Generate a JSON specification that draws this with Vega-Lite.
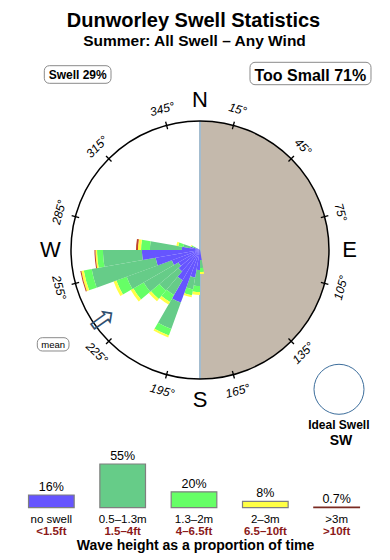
{
  "$schema": "https://vega.github.io/schema/vega-lite/v6.json",
  "padding": 0,
  "spacing": 0,
  "bounds": "flush",
  "background": "white",
  "config": {"view": {"stroke": null}, "axis": {"disable": true}, "font": "Liberation Sans", "text": {"font": "Liberation Sans"}},
  "vconcat": [
    {
      "width": 390,
      "height": 440,
      "data": {"values": [{}]},
      "encoding": {
        "x": {"datum": 0, "type": "quantitative", "scale": {"domain": [-1.5504, 1.4729], "nice": false, "zero": false}, "axis": null},
        "y": {"datum": 0, "type": "quantitative", "scale": {"domain": [-1.4729, 1.938], "nice": false, "zero": false}, "axis": null}
      },
      "layer": [
        {
          "mark": {"type": "arc", "fill": "white"},
          "encoding": {
            "theta": {"datum": 0, "type": "quantitative", "stack": null, "scale": {"type": "linear", "domain": [0, 360], "range": [0, 6.283185307179586], "nice": false, "zero": false}},
            "theta2": {"datum": 360},
            "radius": {"datum": 1, "type": "quantitative", "stack": null, "scale": {"type": "linear", "domain": [0, 1], "range": [0, 129], "nice": false, "zero": false}}
          }
        },
        {
          "mark": {"type": "arc", "fill": "#c4b9ac"},
          "encoding": {
            "theta": {"datum": 0, "type": "quantitative", "stack": null},
            "theta2": {"datum": 180},
            "radius": {"datum": 1, "type": "quantitative", "stack": null}
          }
        },
        {
          "mark": {"type": "rule", "color": "#a3bccf", "strokeWidth": 2},
          "encoding": {
            "y": {"datum": -1, "type": "quantitative"},
            "y2": {"datum": 1}
          }
        },
        {
          "data": {"values": [
            {"dir": 175, "band": "no swell", "lo": 0, "hi": 0.078},
            {"dir": 175, "band": "0.5–1.3m", "lo": 0.078, "hi": 0.140},
            {"dir": 175, "band": "1.3–2m", "lo": 0.140, "hi": 0.171},
            {"dir": 175, "band": "2–3m", "lo": 0.171, "hi": 0.186},
            {"dir": 185, "band": "no swell", "lo": 0, "hi": 0.155},
            {"dir": 185, "band": "0.5–1.3m", "lo": 0.155, "hi": 0.279},
            {"dir": 185, "band": "1.3–2m", "lo": 0.279, "hi": 0.326},
            {"dir": 185, "band": "2–3m", "lo": 0.326, "hi": 0.349},
            {"dir": 195, "band": "no swell", "lo": 0, "hi": 0.217},
            {"dir": 195, "band": "0.5–1.3m", "lo": 0.217, "hi": 0.310},
            {"dir": 195, "band": "1.3–2m", "lo": 0.310, "hi": 0.357},
            {"dir": 195, "band": "2–3m", "lo": 0.357, "hi": 0.372},
            {"dir": 205, "band": "no swell", "lo": 0, "hi": 0.434},
            {"dir": 205, "band": "0.5–1.3m", "lo": 0.434, "hi": 0.651},
            {"dir": 205, "band": "1.3–2m", "lo": 0.651, "hi": 0.705},
            {"dir": 205, "band": "2–3m", "lo": 0.705, "hi": 0.721},
            {"dir": 215, "band": "no swell", "lo": 0, "hi": 0.271},
            {"dir": 215, "band": "0.5–1.3m", "lo": 0.271, "hi": 0.403},
            {"dir": 215, "band": "1.3–2m", "lo": 0.403, "hi": 0.465},
            {"dir": 215, "band": "2–3m", "lo": 0.465, "hi": 0.488},
            {"dir": 225, "band": "no swell", "lo": 0, "hi": 0.217},
            {"dir": 225, "band": "0.5–1.3m", "lo": 0.217, "hi": 0.411},
            {"dir": 225, "band": "1.3–2m", "lo": 0.411, "hi": 0.496},
            {"dir": 225, "band": "2–3m", "lo": 0.496, "hi": 0.519},
            {"dir": 235, "band": "no swell", "lo": 0, "hi": 0.194},
            {"dir": 235, "band": "0.5–1.3m", "lo": 0.194, "hi": 0.504},
            {"dir": 235, "band": "1.3–2m", "lo": 0.504, "hi": 0.597},
            {"dir": 235, "band": "2–3m", "lo": 0.597, "hi": 0.620},
            {"dir": 245, "band": "no swell", "lo": 0, "hi": 0.233},
            {"dir": 245, "band": "0.5–1.3m", "lo": 0.233, "hi": 0.605},
            {"dir": 245, "band": "1.3–2m", "lo": 0.605, "hi": 0.690},
            {"dir": 245, "band": "2–3m", "lo": 0.690, "hi": 0.713},
            {"dir": 255, "band": "no swell", "lo": 0, "hi": 0.349},
            {"dir": 255, "band": "0.5–1.3m", "lo": 0.349, "hi": 0.853},
            {"dir": 255, "band": "1.3–2m", "lo": 0.853, "hi": 0.915},
            {"dir": 255, "band": "2–3m", "lo": 0.915, "hi": 0.934},
            {"dir": 255, "band": ">3m", "lo": 0.934, "hi": 0.942},
            {"dir": 265, "band": "no swell", "lo": 0, "hi": 0.450},
            {"dir": 265, "band": "0.5–1.3m", "lo": 0.450, "hi": 0.752},
            {"dir": 265, "band": "1.3–2m", "lo": 0.752, "hi": 0.798},
            {"dir": 265, "band": "2–3m", "lo": 0.798, "hi": 0.810},
            {"dir": 265, "band": ">3m", "lo": 0.810, "hi": 0.818},
            {"dir": 275, "band": "no swell", "lo": 0, "hi": 0.140},
            {"dir": 275, "band": "0.5–1.3m", "lo": 0.140, "hi": 0.388},
            {"dir": 275, "band": "1.3–2m", "lo": 0.388, "hi": 0.457},
            {"dir": 275, "band": "2–3m", "lo": 0.457, "hi": 0.481},
            {"dir": 275, "band": ">3m", "lo": 0.481, "hi": 0.496},
            {"dir": 285, "band": "no swell", "lo": 0, "hi": 0.078},
            {"dir": 285, "band": "0.5–1.3m", "lo": 0.078, "hi": 0.132},
            {"dir": 285, "band": "1.3–2m", "lo": 0.132, "hi": 0.171},
            {"dir": 285, "band": "2–3m", "lo": 0.171, "hi": 0.186},
            {"dir": 295, "band": "no swell", "lo": 0, "hi": 0.031},
            {"dir": 295, "band": "0.5–1.3m", "lo": 0.031, "hi": 0.054},
            {"dir": 295, "band": "1.3–2m", "lo": 0.054, "hi": 0.070},
            {"dir": 295, "band": "2–3m", "lo": 0.070, "hi": 0.078}
          ]},
          "transform": [
            {"calculate": "datum.dir - 5", "as": "t0"},
            {"calculate": "datum.dir + 5", "as": "t1"}
          ],
          "mark": {"type": "arc"},
          "encoding": {
            "theta": {"field": "t0", "type": "quantitative", "stack": null},
            "theta2": {"field": "t1"},
            "radius": {"field": "hi", "type": "quantitative", "stack": null},
            "radius2": {"field": "lo"},
            "color": {"field": "band", "type": "nominal", "legend": null,
              "scale": {"domain": ["no swell", "0.5–1.3m", "1.3–2m", "2–3m", ">3m"], "range": ["#6655ff", "#66cc88", "#66ff66", "#ffff44", "#c0432c"]}}
          }
        },
        {
          "mark": {"type": "arc", "fill": "white", "fillOpacity": 0, "stroke": "black", "strokeWidth": 1.5},
          "encoding": {
            "theta": {"datum": 0, "type": "quantitative", "stack": null},
            "theta2": {"datum": 360},
            "radius": {"datum": 1, "type": "quantitative", "stack": null}
          }
        },
        {
          "data": {"values": [{"b": 15}, {"b": 45}, {"b": 75}, {"b": 105}, {"b": 135}, {"b": 165}, {"b": 195}, {"b": 225}, {"b": 255}, {"b": 285}, {"b": 315}, {"b": 345}]},
          "transform": [
            {"calculate": "datum.b - 0.3", "as": "a0"},
            {"calculate": "datum.b + 0.3", "as": "a1"}
          ],
          "mark": {"type": "arc", "fill": "black"},
          "encoding": {
            "theta": {"field": "a0", "type": "quantitative", "stack": null},
            "theta2": {"field": "a1"},
            "radius": {"datum": 1.03, "type": "quantitative", "stack": null},
            "radius2": {"datum": 0.97}
          }
        },
        {
          "data": {"values": [{"b": 15}, {"b": 45}, {"b": 75}, {"b": 105}, {"b": 135}, {"b": 165}, {"b": 195}, {"b": 225}, {"b": 255}, {"b": 285}, {"b": 315}, {"b": 345}]},
          "transform": [
            {"calculate": "((datum.b + 90) % 180) - 90", "as": "rot"},
            {"calculate": "datum.b + '°'", "as": "lab"}
          ],
          "mark": {"type": "text", "fontSize": 12, "fontStyle": "italic", "baseline": "middle", "align": "center", "color": "black"},
          "encoding": {
            "theta": {"field": "b", "type": "quantitative", "stack": null},
            "radius": {"datum": 1.13, "type": "quantitative", "stack": null},
            "angle": {"field": "rot", "type": "quantitative", "scale": null},
            "text": {"field": "lab"}
          }
        },
        {
          "data": {"values": [{"b": 0, "l": "N"}, {"b": 90, "l": "E"}, {"b": 180, "l": "S"}, {"b": 270, "l": "W"}]},
          "mark": {"type": "text", "fontSize": 22, "baseline": "middle", "align": "center", "color": "black"},
          "encoding": {
            "theta": {"field": "b", "type": "quantitative", "stack": null},
            "radius": {"datum": 1.16, "type": "quantitative", "stack": null},
            "text": {"field": "l"}
          }
        },
        {
          "mark": {"type": "text", "text": "⇧", "font": "DejaVu Sans", "fontSize": 33, "angle": 54.5, "baseline": "middle", "align": "center", "color": "#2f4f6f"},
          "encoding": {
            "theta": {"datum": 234.5, "type": "quantitative", "stack": null},
            "radius": {"datum": 0.95, "type": "quantitative", "stack": null}
          }
        },
        {
          "mark": {"type": "text", "text": "Dunworley Swell Statistics", "fontSize": 20, "fontWeight": "bold", "baseline": "alphabetic", "align": "center", "color": "black"},
          "encoding": {
            "x": {"datum": -0.0504, "type": "quantitative"},
            "y": {"datum": 1.731, "type": "quantitative"}
          }
        },
        {
          "mark": {"type": "text", "text": "Summer: All Swell – Any Wind", "fontSize": 15.5, "fontWeight": "bold", "baseline": "alphabetic", "align": "center", "color": "black"},
          "encoding": {
            "x": {"datum": -0.0426, "type": "quantitative"},
            "y": {"datum": 1.5814, "type": "quantitative"}
          }
        },
        {
          "mark": {"type": "rect", "fill": "white", "stroke": "#8a8a8a", "strokeWidth": 1, "cornerRadius": 5},
          "encoding": {
            "x": {"datum": -1.207, "type": "quantitative"},
            "x2": {"datum": -0.6899},
            "y": {"datum": 1.4287, "type": "quantitative"},
            "y2": {"datum": 1.2922}
          }
        },
        {
          "mark": {"type": "rect", "fill": "white", "stroke": "#8a8a8a", "strokeWidth": 1, "cornerRadius": 5},
          "encoding": {
            "x": {"datum": 0.3876, "type": "quantitative"},
            "x2": {"datum": 1.3256},
            "y": {"datum": 1.455, "type": "quantitative"},
            "y2": {"datum": 1.2814}
          }
        },
        {
          "mark": {"type": "rect", "fill": "white", "stroke": "#8a8a8a", "strokeWidth": 1, "cornerRadius": 5},
          "encoding": {
            "x": {"datum": -1.2612, "type": "quantitative"},
            "x2": {"datum": -1.0155},
            "y": {"datum": -0.6798, "type": "quantitative"},
            "y2": {"datum": -0.7829}
          }
        },
        {
          "mark": {"type": "text", "text": "Swell 29%", "fontSize": 12, "fontWeight": "bold", "baseline": "alphabetic", "align": "center", "color": "black"},
          "encoding": {
            "x": {"datum": -0.9481, "type": "quantitative"},
            "y": {"datum": 1.3279, "type": "quantitative"}
          }
        },
        {
          "mark": {"type": "text", "text": "Too Small 71%", "fontSize": 16, "fontWeight": "bold", "baseline": "alphabetic", "align": "center", "color": "black"},
          "encoding": {
            "x": {"datum": 0.855, "type": "quantitative"},
            "y": {"datum": 1.3078, "type": "quantitative"}
          }
        },
        {
          "mark": {"type": "text", "text": "mean", "fontSize": 9.5, "baseline": "alphabetic", "align": "center", "color": "black"},
          "encoding": {
            "x": {"datum": -1.138, "type": "quantitative"},
            "y": {"datum": -0.758, "type": "quantitative"}
          }
        },
        {
          "mark": {"type": "arc", "fill": "white", "fillOpacity": 0, "stroke": "#3d6e9c", "strokeWidth": 1},
          "encoding": {
            "x": {"datum": 1.0775, "type": "quantitative"},
            "y": {"datum": -1.0798, "type": "quantitative"},
            "theta": {"datum": 0, "type": "quantitative", "stack": null},
            "theta2": {"datum": 360},
            "radius": {"datum": 0.1938, "type": "quantitative", "stack": null}
          }
        },
        {
          "mark": {"type": "text", "text": "Ideal Swell", "fontSize": 12, "fontWeight": "bold", "baseline": "alphabetic", "align": "center", "color": "black"},
          "encoding": {
            "x": {"datum": 1.076, "type": "quantitative"},
            "y": {"datum": -1.3899, "type": "quantitative"}
          }
        },
        {
          "mark": {"type": "text", "text": "SW", "fontSize": 14, "fontWeight": "bold", "baseline": "alphabetic", "align": "center", "color": "black"},
          "encoding": {
            "x": {"datum": 1.093, "type": "quantitative"},
            "y": {"datum": -1.5116, "type": "quantitative"}
          }
        }
      ]
    },
    {
      "width": 388,
      "height": 120,
      "data": {"values": [
        {"band": "no swell", "pct": 16, "lab": "16%", "ft": "<1.5ft"},
        {"band": "0.5–1.3m", "pct": 55, "lab": "55%", "ft": "1.5–4ft"},
        {"band": "1.3–2m", "pct": 20, "lab": "20%", "ft": "4–6.5ft"},
        {"band": "2–3m", "pct": 8, "lab": "8%", "ft": "6.5–10ft"},
        {"band": ">3m", "pct": 0.7, "lab": "0.7%", "ft": ">10ft"}
      ]},
      "layer": [
        {
          "mark": {"type": "bar", "strokeWidth": 1.2},
          "encoding": {
            "x": {"field": "band", "type": "nominal", "sort": ["no swell", "0.5–1.3m", "1.3–2m", "2–3m", ">3m"], "scale": {"paddingInner": 0.36, "paddingOuter": 0.4}, "axis": null},
            "y": {"field": "pct", "type": "quantitative", "stack": null, "scale": {"domain": [-65.8, 85.2], "nice": false, "zero": false}, "axis": null},
            "y2": {"datum": 0},
            "color": {"field": "band", "type": "nominal", "legend": null,
              "scale": {"domain": ["no swell", "0.5–1.3m", "1.3–2m", "2–3m", ">3m"], "range": ["#6655ff", "#66cc88", "#66ff66", "#ffff44", "#8b2a22"]}},
            "stroke": {"condition": {"test": "datum.band === '>3m'", "value": "#7a2a22"}, "value": "#7f7f7f"}
          }
        },
        {
          "mark": {"type": "text", "fontSize": 12.5, "baseline": "alphabetic", "align": "center", "dy": -4, "color": "black"},
          "encoding": {
            "x": {"field": "band", "type": "nominal", "sort": ["no swell", "0.5–1.3m", "1.3–2m", "2–3m", ">3m"]},
            "y": {"field": "pct", "type": "quantitative", "stack": null},
            "text": {"field": "lab"}
          }
        },
        {
          "mark": {"type": "text", "fontSize": 11.5, "baseline": "alphabetic", "align": "center", "dy": 14.8, "color": "black"},
          "encoding": {
            "x": {"field": "band", "type": "nominal", "sort": ["no swell", "0.5–1.3m", "1.3–2m", "2–3m", ">3m"]},
            "y": {"datum": 0, "type": "quantitative"},
            "text": {"field": "band"}
          }
        },
        {
          "mark": {"type": "text", "fontSize": 11.5, "fontWeight": "bold", "baseline": "alphabetic", "align": "center", "dy": 26.8, "color": "#8b1a1a"},
          "encoding": {
            "x": {"field": "band", "type": "nominal", "sort": ["no swell", "0.5–1.3m", "1.3–2m", "2–3m", ">3m"]},
            "y": {"datum": 0, "type": "quantitative"},
            "text": {"field": "ft"}
          }
        },
        {
          "data": {"values": [{}]},
          "mark": {"type": "text", "text": "Wave height as a proportion of time", "fontSize": 14, "fontWeight": "bold", "baseline": "alphabetic", "align": "center", "dy": 42.5, "dx": 1.5, "color": "black"},
          "encoding": {
            "x": {"datum": "1.3–2m", "type": "nominal"},
            "y": {"datum": 0, "type": "quantitative"}
          }
        }
      ]
    }
  ]
}
